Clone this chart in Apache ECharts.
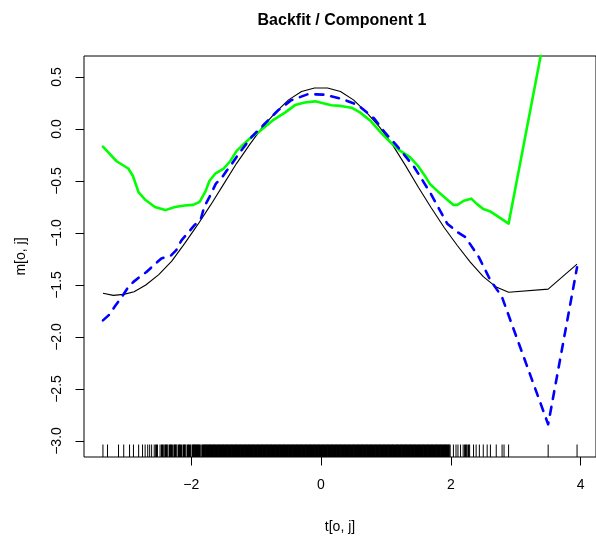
<!DOCTYPE html>
<html>
<head>
<meta charset="utf-8">
<title>Backfit / Component 1</title>
<script src="https://cdn.jsdelivr.net/npm/echarts@6.0.0/dist/echarts.min.js"></script>
<style>
html, body { margin: 0; padding: 0; background: #fff; }
#main { width: 596px; height: 539px; }
</style>
</head>
<body>
<div id="main"></div>
<script>
// true component (black, thin)
var tTrue = [-3.36, -3.20, -3.04, -2.88, -2.70, -2.50, -2.30, -2.10, -1.90, -1.70, -1.50, -1.30, -1.10, -0.90,
  -0.70, -0.50, -0.30, -0.10, 0.10, 0.30, 0.50, 0.70, 0.90, 1.10, 1.30, 1.50, 1.70, 1.90, 2.10, 2.30, 2.50,
  2.70, 2.89, 3.50, 3.945];
var mTrue = [-1.58, -1.60, -1.59, -1.565, -1.50, -1.40, -1.27, -1.10, -0.92, -0.73, -0.53, -0.33, -0.15, 0.02,
  0.16, 0.28, 0.36, 0.395, 0.395, 0.36, 0.28, 0.16, 0.02, -0.15, -0.35, -0.56, -0.76, -0.95, -1.12, -1.28, -1.42,
  -1.52, -1.57, -1.54, -1.30];

// estimate (blue, dashed)
var tEst = [-3.36, -3.27, -3.17, -3.07, -2.97, -2.89, -2.79, -2.69, -2.56, -2.46, -2.31, -2.23, -2.15, -2.08,
  -1.95, -1.85, -1.80, -1.72, -1.62, -1.52, -1.465, -1.39, -1.27, -1.07, -0.89, -0.66, -0.46, -0.20, 0.05,
  0.32, 0.57, 0.82, 0.98, 1.18, 1.435, 1.69, 1.945, 2.10, 2.225, 2.43, 2.61, 2.785, 3.50, 3.945];
var mEst = [-1.84, -1.79, -1.70, -1.615, -1.52, -1.47, -1.42, -1.375, -1.30, -1.245, -1.215, -1.165, -1.07, -1.02,
  -0.925, -0.86, -0.75, -0.655, -0.525, -0.46, -0.41, -0.35, -0.24, -0.077, 0.036, 0.18, 0.276, 0.335, 0.33,
  0.29, 0.23, 0.10, -0.03, -0.17, -0.365, -0.62, -0.91, -0.99, -1.04, -1.23, -1.455, -1.61, -2.84, -1.33];

// backfit (green)
var tBack = [-3.36, -3.15, -2.97, -2.90, -2.81, -2.71, -2.56, -2.40, -2.25, -2.10, -1.97, -1.87, -1.78, -1.72,
  -1.63, -1.50, -1.40, -1.30, -1.20, -1.06, -0.96, -0.75, -0.55, -0.40, -0.25, -0.09, 0.05, 0.16, 0.30, 0.47,
  0.60, 0.76, 0.93, 1.04, 1.20, 1.37, 1.50, 1.60, 1.68, 1.80, 2.04, 2.10, 2.20, 2.316, 2.40, 2.50, 2.60, 2.70,
  2.89, 3.50, 3.945];
var mBack = [-0.17, -0.31, -0.38, -0.45, -0.61, -0.68, -0.75, -0.78, -0.75, -0.735, -0.73, -0.70, -0.60, -0.50,
  -0.43, -0.38, -0.31, -0.21, -0.15, -0.07, -0.03, 0.08, 0.16, 0.23, 0.255, 0.266, 0.245, 0.228, 0.222, 0.205,
  0.16, 0.08, -0.04, -0.11, -0.20, -0.27, -0.36, -0.45, -0.53, -0.60, -0.73, -0.73, -0.69, -0.67, -0.72, -0.77,
  -0.79, -0.83, -0.91, 1.08, 2.0];

// observed t (rug)
var rugT = [-3.36, -3.29, -3.12, -3.04, -2.95, -2.89, -2.81, -2.75, -2.71, -2.67, -2.64, -2.61, -2.57, -2.54, -2.52, -2.48,
  -2.45, -2.43, -2.40, -2.38, -2.36, -2.33, -2.31, -2.29, -2.26, -2.24, -2.22, -2.19, -2.17, -2.15, -2.12, -2.10,
  -2.08, -2.05, -2.03, -2.01, -1.98, -1.96, -1.94, -1.92, -1.90, -1.88, -1.86, -1.83, -1.81, -1.79, -1.77, -1.75,
  -1.73, -1.71, -1.69, -1.67, -1.65, -1.63, -1.61, -1.59, -1.57, -1.55, -1.53, -1.51, -1.49, -1.47, -1.45, -1.43,
  -1.41, -1.39, -1.37, -1.35, -1.33, -1.31, -1.29, -1.27, -1.25, -1.23, -1.21, -1.19, -1.17, -1.15, -1.13, -1.11,
  -1.09, -1.07, -1.05, -1.03, -1.01, -0.99, -0.97, -0.95, -0.93, -0.91, -0.89, -0.87, -0.85, -0.83, -0.81, -0.79,
  -0.77, -0.75, -0.73, -0.71, -0.69, -0.67, -0.65, -0.63, -0.61, -0.59, -0.57, -0.55, -0.53, -0.51, -0.49, -0.47,
  -0.45, -0.43, -0.41, -0.39, -0.37, -0.35, -0.33, -0.31, -0.29, -0.27, -0.25, -0.23, -0.21, -0.19, -0.17, -0.15,
  -0.13, -0.11, -0.09, -0.07, -0.05, -0.03, -0.01, 0.01, 0.03, 0.05, 0.07, 0.09, 0.11, 0.13, 0.15, 0.17,
  0.19, 0.21, 0.23, 0.25, 0.27, 0.29, 0.31, 0.33, 0.35, 0.37, 0.39, 0.41, 0.43, 0.45, 0.47, 0.49,
  0.51, 0.53, 0.55, 0.57, 0.59, 0.61, 0.63, 0.65, 0.67, 0.69, 0.71, 0.73, 0.75, 0.77, 0.79, 0.81,
  0.83, 0.85, 0.87, 0.89, 0.91, 0.93, 0.95, 0.97, 0.99, 1.01, 1.03, 1.05, 1.07, 1.09, 1.11, 1.13,
  1.15, 1.17, 1.19, 1.21, 1.23, 1.25, 1.27, 1.29, 1.31, 1.33, 1.35, 1.37, 1.39, 1.41, 1.43, 1.45,
  1.47, 1.49, 1.51, 1.53, 1.55, 1.57, 1.59, 1.61, 1.63, 1.65, 1.67, 1.69, 1.71, 1.73, 1.75, 1.77,
  1.79, 1.81, 1.83, 1.85, 1.87, 1.89, 1.91, 1.93, 1.95, 1.97, 1.99,
  2.04, 2.08, 2.11, 2.15, 2.19, 2.22, 2.24, 2.27, 2.29, 2.35, 2.39, 2.44, 2.50, 2.56, 2.61, 2.70, 2.79, 2.82,
  2.89, 3.50, 3.945];

var xTicks = [-2, 0, 2, 4];
var yTicks = [-3.0, -2.5, -2.0, -1.5, -1.0, -0.5, 0.0, 0.5];
var xMin = -3.652, xMax = 4.237;
var yMin = -3.154, yMax = 0.702;

function pairs(xs, ys) {
  return xs.map(function (x, i) { return [x, ys[i]]; });
}
function minus(s) { return s.replace('-', '\u2212'); }

var font = 'Liberation Sans, Arial, Helvetica, sans-serif';

var chart = echarts.init(document.getElementById('main'));
chart.setOption({
  animation: false,
  title: {
    text: 'Backfit / Component 1',
    left: 337, top: 8, textAlign: 'center',
    textStyle: { fontFamily: font, fontSize: 16, fontWeight: 'bold', color: '#000' }
  },
  grid: {
    left: 84, top: 56, width: 517, height: 401,
    show: true, borderColor: '#000', borderWidth: 1, backgroundColor: 'transparent'
  },
  xAxis: {
    type: 'value', min: xMin, max: xMax,
    name: 't[o, j]', nameLocation: 'middle', nameGap: 63,
    nameTextStyle: { fontFamily: font, fontSize: 14, color: '#000' },
    axisLine: { show: false, onZero: false },
    splitLine: { show: false },
    axisTick: { show: true, length: 8.5, customValues: xTicks, lineStyle: { color: '#000' } },
    axisLabel: {
      customValues: xTicks, margin: 21,
      fontFamily: font, fontSize: 14, color: '#000',
      formatter: function (v) { return minus(String(v)); }
    }
  },
  yAxis: {
    type: 'value', min: yMin, max: yMax,
    name: 'm[o, j]', nameLocation: 'middle', nameGap: 56, nameRotate: 90,
    nameTextStyle: { fontFamily: font, fontSize: 14, color: '#000' },
    axisLine: { show: false, onZero: false },
    splitLine: { show: false },
    axisTick: { show: true, length: 8.5, customValues: yTicks, lineStyle: { color: '#000' } },
    axisLabel: {
      customValues: yTicks, margin: 20, rotate: 90,
      fontFamily: font, fontSize: 14, color: '#000',
      formatter: function (v) { return minus(v.toFixed(1)); }
    }
  },
  series: [
    {
      type: 'line', data: pairs(tTrue, mTrue), symbol: 'none', clip: true,
      lineStyle: { color: '#000', width: 1.1 }
    },
    {
      type: 'line', data: pairs(tBack, mBack), symbol: 'none', clip: true,
      lineStyle: { color: '#00ff00', width: 2.6, cap: 'round', join: 'round' }
    },
    {
      type: 'line', data: pairs(tEst, mEst), symbol: 'none', clip: true,
      lineStyle: { color: '#0000ff', width: 2.6, type: [8, 8], cap: 'round', join: 'round' }
    },
    {
      type: 'custom',
      data: rugT.map(function (t) { return [t]; }),
      renderItem: function (params, api) {
        var i = params.dataIndex;
        var p = api.coord([api.value(0), yMin]);
        // ticks packed closer than ~1.5px merge into a solid band, as in the original
        var next = i + 1 < rugT.length ? rugT[i + 1] - rugT[i] : 1;
        var w = next < 0.025 ? 2 : 1;
        return {
          type: 'line',
          shape: { x1: p[0], y1: p[1], x2: p[0], y2: p[1] - 12.5 },
          style: { stroke: '#000', lineWidth: w }
        };
      }
    }
  ]
});
</script>
</body>
</html>
